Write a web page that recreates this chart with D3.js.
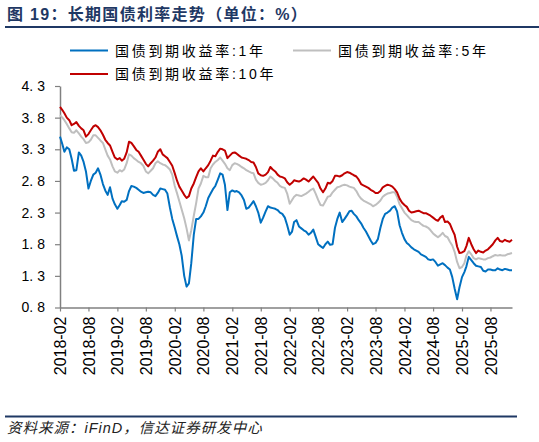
<!DOCTYPE html>
<html><head><meta charset="utf-8">
<script src="https://cdn.jsdelivr.net/npm/d3@7"></script>
<style>body{margin:0;background:#fff}svg{display:block}</style>
</head><body>
<svg id="c" width="539" height="442"></svg>
<script>
const titleText = "图 19：长期国债利率走势（单位：%）";
const sourceText = "资料来源：iFinD，信达证券研发中心";
const seriesNames = ["国债到期收益率:1年", "国债到期收益率:5年", "国债到期收益率:10年"];
const seriesColors = ["#0070C0", "#BFBFBF", "#C00000"];
const yTicks = [0.8, 1.3, 1.8, 2.3, 2.8, 3.3, 3.8, 4.3];
const xTickLabels = ["2018-02","2018-08","2019-02","2019-08","2020-02","2020-08","2021-02","2021-08",
  "2022-02","2022-08","2023-02","2023-08","2024-02","2024-08","2025-02","2025-08"];

// half-monthly readings (1st and 16th of each month), Feb 2018 .. Dec 2025
const y1 = [
  3.50,3.38,3.26,3.33,3.30,3.15,2.96,2.97,3.25,3.20,3.10,2.95,2.68,2.80,2.90,2.93,3.00,2.90,2.75,2.65,2.58,2.70,
  2.52,2.43,2.36,2.42,2.48,2.47,2.50,2.64,2.72,2.71,2.69,2.66,2.63,2.61,2.62,2.63,2.62,2.58,2.56,2.61,2.68,2.67,2.66,2.60,
  2.38,2.20,2.06,1.92,1.80,1.62,1.30,1.13,1.18,1.50,1.95,2.20,2.20,2.24,2.30,2.40,2.53,2.60,2.67,2.72,2.82,2.92,2.90,2.74,
  2.34,2.62,2.65,2.63,2.64,2.62,2.57,2.50,2.36,2.38,2.43,2.48,2.40,2.30,2.14,2.22,2.32,2.40,2.38,2.37,2.36,2.34,2.30,2.28,
  2.22,2.10,1.95,2.00,2.15,2.18,2.08,2.05,2.02,2.00,1.95,1.98,2.03,1.92,1.80,1.77,1.74,1.80,1.84,1.79,1.80,2.06,2.20,2.30,
  2.15,2.20,2.26,2.32,2.33,2.28,2.24,2.18,2.13,2.06,2.00,1.93,1.86,1.80,1.82,1.88,2.06,2.20,2.28,2.30,2.33,2.38,2.40,2.32,
  2.10,1.98,1.88,1.82,1.79,1.75,1.72,1.70,1.68,1.64,1.62,1.60,1.56,1.55,1.56,1.52,1.46,1.48,1.50,1.47,1.43,1.40,1.28,1.10,
  0.93,1.12,1.28,1.36,1.45,1.60,1.55,1.50,1.46,1.45,1.44,1.38,1.37,1.40,1.40,1.39,1.39,1.42,1.40,1.39,1.41,1.40,1.39,1.39
];
const y5 = [
  3.84,3.80,3.76,3.70,3.63,3.57,3.56,3.60,3.55,3.50,3.46,3.40,3.41,3.45,3.52,3.52,3.48,3.44,3.40,3.30,3.20,3.14,
  3.03,2.95,2.93,2.97,2.95,2.98,3.08,3.22,3.20,3.16,3.13,3.10,3.08,3.04,2.95,2.92,2.96,3.00,3.08,3.11,3.08,3.06,3.05,3.02,
  2.98,2.90,2.72,2.60,2.48,2.35,2.21,2.05,1.86,2.02,2.25,2.45,2.68,2.76,2.88,2.86,2.86,3.00,3.06,3.10,3.13,3.17,3.12,3.07,
  3.00,2.97,3.05,3.08,3.07,3.05,3.02,3.00,2.97,2.95,2.93,2.92,2.82,2.77,2.74,2.75,2.77,2.81,2.87,2.84,2.80,2.77,2.72,2.70,
  2.69,2.60,2.44,2.50,2.55,2.58,2.57,2.56,2.58,2.60,2.63,2.66,2.68,2.60,2.50,2.42,2.41,2.48,2.55,2.56,2.62,2.66,2.70,2.71,
  2.73,2.74,2.73,2.71,2.70,2.69,2.64,2.57,2.52,2.49,2.47,2.45,2.43,2.40,2.42,2.45,2.49,2.55,2.58,2.60,2.61,2.62,2.62,2.55,
  2.43,2.37,2.30,2.26,2.22,2.18,2.16,2.15,2.15,2.12,2.09,2.08,2.06,2.02,1.97,1.94,1.91,1.94,1.98,1.93,1.91,1.84,1.78,1.68,
  1.52,1.42,1.44,1.50,1.62,1.69,1.64,1.58,1.56,1.58,1.57,1.56,1.56,1.58,1.59,1.61,1.63,1.62,1.63,1.62,1.62,1.64,1.65,1.66
];
const y10 = [
  3.97,3.92,3.87,3.80,3.76,3.68,3.70,3.73,3.67,3.63,3.60,3.50,3.54,3.60,3.66,3.68,3.65,3.60,3.53,3.45,3.40,3.36,
  3.26,3.17,3.14,3.16,3.12,3.15,3.25,3.42,3.40,3.35,3.29,3.26,3.20,3.14,3.07,3.03,3.08,3.12,3.17,3.26,3.30,3.22,3.19,3.16,
  3.10,3.04,2.92,2.80,2.71,2.65,2.58,2.53,2.56,2.68,2.76,2.86,2.95,3.00,2.95,3.00,3.05,3.12,3.20,3.19,3.26,3.31,3.30,3.28,
  3.16,3.20,3.24,3.25,3.23,3.20,3.17,3.16,3.15,3.13,3.10,3.09,3.02,2.92,2.89,2.88,2.90,2.94,3.02,2.98,2.95,2.90,2.87,2.86,
  2.84,2.78,2.74,2.77,2.81,2.80,2.79,2.81,2.84,2.82,2.79,2.83,2.87,2.82,2.77,2.68,2.62,2.68,2.77,2.76,2.80,2.88,2.88,2.87,
  2.89,2.92,2.94,2.93,2.91,2.89,2.87,2.82,2.75,2.73,2.71,2.69,2.66,2.64,2.61,2.61,2.64,2.70,2.72,2.74,2.73,2.71,2.67,2.62,
  2.52,2.46,2.42,2.39,2.33,2.30,2.31,2.32,2.33,2.31,2.29,2.29,2.27,2.25,2.22,2.19,2.17,2.22,2.25,2.15,2.16,2.12,2.03,1.95,
  1.76,1.66,1.67,1.69,1.77,1.90,1.80,1.72,1.66,1.70,1.68,1.67,1.70,1.72,1.76,1.80,1.86,1.90,1.85,1.84,1.87,1.85,1.84,1.87
];

const dates = d3.range(y1.length).map(k => new Date(2018, 1 + Math.floor(k / 2), k % 2 ? 16 : 1));
const series = [y1, y5, y10];

const svg = d3.select("#c");
const navy = "#1F3864";
const FONT = "'Liberation Sans', Arial, 'Noto Sans CJK SC', sans-serif";

// title
svg.append("text").attr("x", 7).attr("y", 20)
  .attr("font-family", FONT).attr("font-size", 16).attr("font-weight", "bold")
  .attr("letter-spacing", 1.3).attr("fill", navy).text(titleText);
svg.append("line").attr("x1", 5).attr("x2", 539).attr("y1", 27).attr("y2", 27)
  .attr("stroke", navy).attr("stroke-width", 2);

// scales
const x = d3.scaleTime().domain([dates[0], dates[dates.length - 1]]).range([60, 512]);
const y = d3.scaleLinear().domain([0.8, 4.3]).range([307.5, 86]);
const parse = d3.timeParse("%Y-%m");

// y axis
const fmt = d3.format(".1f");
const gy = svg.append("g").attr("transform", "translate(60,0)")
  .call(d3.axisLeft(y).tickValues(yTicks).tickSize(5).tickSizeOuter(0).tickPadding(10).tickFormat(""));
gy.select(".domain").attr("stroke", "#808080").attr("stroke-width", 1.5);
gy.selectAll(".tick line").attr("stroke", "#808080").attr("stroke-width", 1.2);
gy.selectAll(".tick text").each(function(d) {
  const s = fmt(d).split(".");
  const t = d3.select(this).attr("font-family", FONT).attr("font-size", 14).attr("fill", "#000");
  t.append("tspan").text(s[0] + ".");
  t.append("tspan").attr("dx", 4).text(s[1]);
});

// x axis
const gx = svg.append("g").attr("transform", "translate(0,307.5)")
  .call(d3.axisBottom(x).tickValues(xTickLabels.map(parse)).tickSize(4).tickSizeOuter(0)
    .tickFormat(d3.timeFormat("%Y-%m")));
gx.select(".domain").attr("stroke", "#808080").attr("stroke-width", 1.5);
gx.selectAll(".tick line").attr("stroke", "#808080").attr("stroke-width", 1.2);
gx.selectAll(".tick text").attr("font-family", FONT).attr("font-size", 16).attr("fill", "#000")
  .attr("transform", "rotate(-90)").attr("text-anchor", "end")
  .attr("x", -9).attr("y", 0).attr("dy", "0.35em");

// lines
const line = d3.line().x((d, i) => x(dates[i])).y(d => y(d));
series.forEach((s, i) => {
  svg.append("path").datum(s).attr("d", line).attr("fill", "none")
    .attr("stroke", seriesColors[i]).attr("stroke-width", 2).attr("stroke-linejoin", "round");
});

// legend
const legendPos = [[70, 50.5], [293, 50.5], [70, 74]];
seriesNames.forEach((n, i) => {
  const [lx, ly] = legendPos[i];
  svg.append("line").attr("x1", lx).attr("x2", lx + 38).attr("y1", ly).attr("y2", ly)
    .attr("stroke", seriesColors[i]).attr("stroke-width", 2);
  svg.append("text").attr("x", lx + 45).attr("y", ly).attr("dy", "0.36em")
    .attr("font-family", FONT).attr("font-size", 14).attr("letter-spacing", 2.7)
    .attr("fill", "#000").text(n);
});

// footer
svg.append("line").attr("x1", 5).attr("x2", 517).attr("y1", 416.5).attr("y2", 416.5)
  .attr("stroke", navy).attr("stroke-width", 2);
svg.append("text").attr("x", 7).attr("y", 433)
  .attr("font-family", FONT).attr("font-size", 14.5).attr("font-style", "italic")
  .attr("letter-spacing", 1).attr("fill", "#222").text(sourceText);
</script>
</body></html>
